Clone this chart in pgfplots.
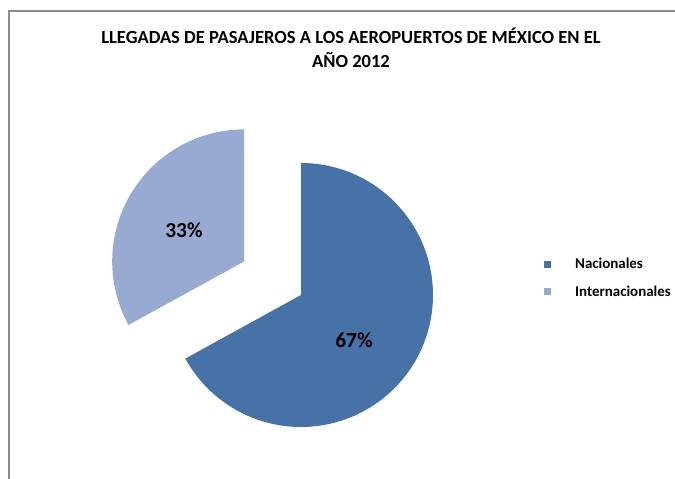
\documentclass[border=0pt]{standalone}
\usepackage{pgfplots}
\pgfplotsset{compat=1.18}
\usepackage{fontspec}
\setmainfont{Carlito}
\definecolor{nac}{HTML}{4672A8}
\definecolor{inter}{HTML}{96AAD2}
\definecolor{frame}{HTML}{8A8A8A}
\begin{document}
\begin{tikzpicture}
\useasboundingbox (0,0) rectangle (675bp,479bp);
% data values (percent)
\pgfmathsetmacro{\vN}{67}
\pgfmathsetmacro{\vI}{33}
\pgfmathsetmacro{\fN}{\vN/(\vN+\vI)}
\pgfmathsetmacro{\fI}{\vI/(\vN+\vI)}
\pgfmathsetmacro{\aN}{90-360*\fN}
\pgfmathsetmacro{\aI}{\aN+360}
\pgfmathsetmacro{\mI}{90+180*\fI}
\pgfmathsetmacro{\cxI}{301+66*cos(\mI)}
\pgfmathsetmacro{\cyI}{184+66*sin(\mI)}
\begin{axis}[
  scale only axis, width=675bp, height=479bp,
  xmin=0, xmax=675, ymin=0, ymax=479,
  hide axis, clip=false,
  legend style={draw=none, fill=none, at={(axis cs:541,201)}, anchor=west,
    font=\fontsize{15}{18}\selectfont\bfseries, row sep=12bp, column sep=20bp,
    nodes={inner xsep=4bp}},
  legend cell align=left,
  legend image code/.code={\fill[#1] (0bp,-3.5bp) rectangle (7bp,3.5bp);},
]
\addplot[fill=nac, draw=none, domain=\aN:90, samples=181, variable=\t]
  ({301+132*cos(\t)},{184+132*sin(\t)}) -- (axis cs:301,184) -- cycle;
\addlegendentry{Nacionales}
\addplot[fill=inter, draw=none, domain=90:\aI, samples=91, variable=\t]
  ({\cxI+132*cos(\t)},{\cyI+132*sin(\t)}) -- (axis cs:\cxI,\cyI) -- cycle;
\addlegendentry{Internacionales}
\node[font=\fontsize{21.5}{24}\selectfont\bfseries] at (axis cs:184,249) {33\%};
\node[font=\fontsize{21.5}{24}\selectfont\bfseries] at (axis cs:354,139) {67\%};
\node[align=center, font=\fontsize{18.6}{24}\selectfont\bfseries] at (axis cs:351,431)
  {LLEGADAS DE PASAJEROS A LOS AEROPUERTOS DE MÉXICO EN EL\\AÑO 2012};
\draw[frame, line width=1.2bp] (axis cs:9,-10) -- (axis cs:9,468) -- (axis cs:690,468);
\end{axis}
\end{tikzpicture}
\end{document}
